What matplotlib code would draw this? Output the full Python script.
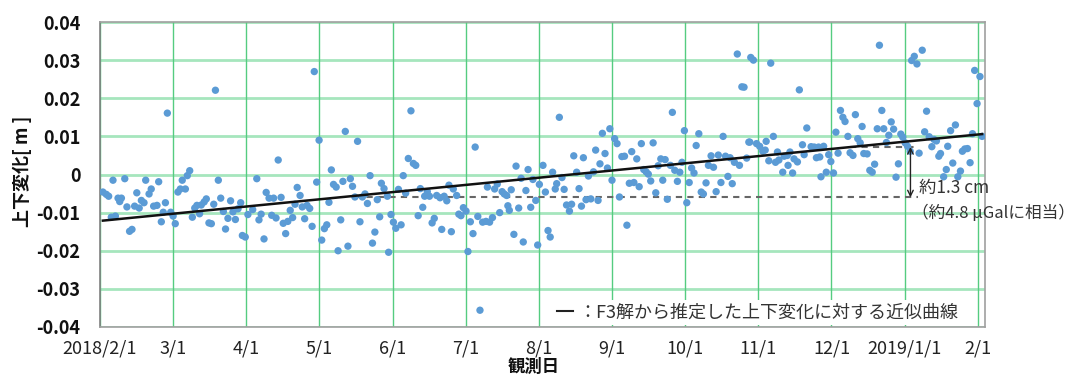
import numpy as np
import matplotlib
matplotlib.use("Agg")
import matplotlib.pyplot as plt
from matplotlib.lines import Line2D

plt.rcParams['font.family'] = ['Noto Sans CJK JP', 'DejaVu Sans']

# days since 2018/2/1 (month gridlines are drawn evenly, as in the original)
obs_day = [
    1.2, 2.6, 3.6, 4.7, 5.4, 6.4, 7.5, 8.2, 8.9, 10.3, 11.2, 12.3, 13.3, 14.4, 15.3,
    16.3, 17.2, 18.3, 19.0, 20.4, 21.3, 22.3, 23.7, 24.4, 25.5, 26.3, 27.2, 28.0,
    29.4, 30.4, 31.3, 32.4, 33.4, 34.2, 35.5, 36.3, 37.3, 38.4, 39.4, 40.3, 41.4,
    42.1, 43.3, 44.2, 45.3, 46.3, 47.3, 48.0, 49.2, 50.2, 51.3, 52.2, 53.2, 54.3,
    55.3, 56.3, 57.4, 58.5, 59.2, 60.4, 61.5,
    63.5, 65.2, 66.1, 67.0, 68.2, 69.1, 70.3, 71.4, 72.2, 73.2, 74.1, 75.3, 76.2,
    77.2, 78.1, 79.1, 80.1, 81.1, 82.0, 83.2, 84.1, 85.1, 86.1, 87.2, 88.2, 89.1,
    90.1, 91.1, 92.2, 93.3, 94.3, 95.2, 96.2, 97.1, 98.2, 99.0, 100.1, 101.0, 102.0,
    103.1, 104.1, 105.0, 106.0, 107.1, 108.1, 109.1, 110.2, 111.2, 112.3, 113.3,
    114.3, 115.3, 116.3, 117.0, 118.1, 119.5, 120.0, 121.0, 122.0,
    123.0, 124.1, 125.2, 126.1, 127.1, 128.2, 129.3, 130.3, 131.3, 132.3, 133.2,
    134.2, 135.0, 136.1, 137.0, 138.1, 139.0, 140.0, 141.4, 142.1, 143.1, 144.2,
    145.1, 146.1, 146.9, 148.3, 149.2, 150.1, 151.1, 152.2, 153.0, 154.0, 155.1,
    156.0, 157.1, 158.0, 159.1, 160.5, 161.1, 162.0, 163.2, 164.1, 165.2, 166.2,
    167.2, 168.1, 169.1, 169.6, 170.2, 171.0, 172.1, 173.0, 174.1, 175.1, 176.0,
    177.1, 178.0, 179.1, 180.0, 181.2, 182.0, 182.7,
    184.2, 185.2, 186.3, 187.2, 188.2, 189.3, 189.9, 191.0, 192.1, 193.0, 194.0,
    195.2, 196.1, 197.0, 198.2, 199.2, 200.2, 201.0, 202.1, 203.1, 204.1, 205.2,
    206.1, 207.1, 207.9, 208.9, 210.0, 211.0, 212.0, 212.9, 214.0, 215.0, 216.0,
    217.0, 218.1, 219.1, 220.1, 221.1, 222.0, 223.2, 224.2, 225.1, 226.1, 227.1,
    228.0, 229.0, 230.0, 231.1, 232.1, 233.2, 234.0, 235.0, 235.9, 237.2, 238.0,
    239.0, 240.1, 241.1, 242.0, 243.0, 244.0, 245.0, 246.0, 247.0, 247.9, 249.0,
    250.0, 250.9, 252.0, 253.0, 254.1, 255.1, 256.2, 257.1, 258.2, 259.1, 260.1,
    261.1, 262.0, 262.9, 263.8, 265.0, 265.9, 266.9, 267.8, 268.9, 269.8,
    270.2, 270.6, 271.7, 273.0, 274.3, 275.6, 276.6, 277.0, 278.1, 278.9, 280.0,
    280.9, 281.7, 282.3, 283.9, 284.5, 285.8, 286.1, 286.9, 288.0, 288.6, 290.0,
    290.8, 292.1, 292.8, 293.9, 295.7, 297.0, 297.9, 298.8, 299.3, 299.8, 300.9,
    302.0, 303.0, 303.9, 305.0, 306.0, 306.9, 307.9, 308.9, 309.8, 311.0, 311.9,
    313.1, 314.1, 315.1, 316.1, 316.9, 317.6, 319.0, 320.1, 321.1, 322.1, 323.2,
    324.1, 325.1, 325.9, 327.0, 328.0, 329.0, 330.0, 331.0, 332.0, 333.0, 333.8,
    334.8, 335.8, 336.9, 337.5, 338.6, 339.7, 340.6, 341.9, 342.9, 343.7, 344.8,
    345.9, 346.8, 347.8, 348.8, 349.5, 350.8, 351.9, 352.5, 353.7, 354.6, 355.7,
    356.7, 357.8, 358.6, 359.6, 360.7, 361.8, 362.8, 363.7, 364.7, 365.9, 366.8,
]

# vertical change [m]
dz = [
    -0.0046, -0.0052, -0.0057, -0.0112, -0.0015, -0.0109, -0.0062, -0.0071, -0.0062,
    -0.0011, -0.0085, -0.0149, -0.0144, -0.0083, -0.0048, -0.0088, -0.0068, -0.0074,
    -0.0015, -0.0051, -0.0038, -0.0083, -0.0081, -0.0019, -0.0124, -0.0099, -0.0074,
    0.0161, -0.0099, -0.0109, -0.0129, -0.0046, -0.0038, -0.0015, -0.0038, -0.0003,
    0.0010, -0.0112, -0.0088, -0.0081, -0.0103, -0.0080, -0.0072, -0.0064, -0.0127,
    -0.0129, -0.0078, 0.0221, -0.0015, -0.0062, -0.0097, -0.0143, -0.0115, -0.0069,
    -0.0098, -0.0118, -0.0090, -0.0074, -0.0160, -0.0164, -0.0105,
    -0.0092, -0.0011, -0.0119, -0.0104, -0.0169, -0.0047, -0.0062, -0.0107, -0.0062,
    -0.0114, 0.0038, -0.0060, -0.0128, -0.0155, -0.0123, -0.0094, -0.0113, -0.0078,
    -0.0034, -0.0055, -0.0085, -0.0116, -0.0081, -0.0089, -0.0136, 0.0270, -0.0020,
    0.0090, -0.0172, -0.0142, -0.0132, -0.0073, 0.0012, -0.0026, -0.0033, -0.0200,
    -0.0119, -0.0018, 0.0113, -0.0188, -0.0011, -0.0031, -0.0059, 0.0087, -0.0124,
    -0.0059, -0.0051, -0.0076, -0.0003, -0.0180, -0.0151, -0.0066, -0.0111, -0.0023,
    -0.0037, -0.0057, -0.0204, -0.0105, -0.0125,
    -0.0141, -0.0039, -0.0132, -0.0003, -0.0049, 0.0042, 0.0167, 0.0029, 0.0024,
    -0.0108, -0.0037, -0.0086, -0.0057, -0.0045, -0.0057, -0.0127, -0.0115, -0.0055,
    -0.0061, -0.0144, -0.0057, -0.0069, -0.0028, -0.0150, -0.0038, -0.0055, -0.0104,
    -0.0108, -0.0087, -0.0096, -0.0202, -0.0124, -0.0155, 0.0072, -0.0110, -0.0356,
    -0.0125, -0.0123, -0.0033, -0.0125, -0.0113, -0.0038, -0.0025, -0.0100, -0.0045,
    -0.0051, -0.0055, -0.0082, -0.0094, -0.0040, -0.0157, 0.0022, -0.0088, -0.0010,
    -0.0177, -0.0042, 0.0013, -0.0086, -0.0013, -0.0068, -0.0185, -0.0026,
    0.0024, -0.0046, -0.0147, -0.0164, 0.0006, -0.0038, -0.0024, 0.0150, -0.0008,
    -0.0039, -0.0080, -0.0096, -0.0078, 0.0049, 0.0006, -0.0037, -0.0083, 0.0044,
    -0.0066, -0.0004, -0.0064, 0.0007, 0.0064, -0.0068, 0.0028, 0.0108, 0.0055,
    0.0017, 0.0120, -0.0015, 0.0094, 0.0081, -0.0059, 0.0047, 0.0048, -0.0133,
    -0.0023, 0.0060, -0.0021, 0.0041, -0.0032, 0.0081, 0.0013, 0.0007, 0.0001,
    -0.0017, 0.0083, -0.0048, 0.0023, 0.0041, -0.0015, 0.0039, -0.0065, 0.0024,
    0.0163, 0.0011, -0.0018, 0.0006, 0.0032, 0.0115, -0.0074, -0.0021, 0.0017,
    0.0004, 0.0076, 0.0107, -0.0046, -0.0051, -0.0022, 0.0024, 0.0049, 0.0019,
    -0.0045, 0.0051, -0.0021, 0.0100, 0.0048, -0.0005, 0.0044, -0.0024, 0.0032,
    0.0316, 0.0024, 0.0230, 0.0229, 0.0043, 0.0085,
    0.0085, 0.0307, 0.0300, 0.0081, 0.0074, 0.0061, 0.0064, 0.0087, 0.0036, 0.0292,
    0.0100, 0.0032, 0.0059, 0.0038, 0.0006, 0.0048, 0.0050, 0.0024, 0.0059, 0.0004,
    0.0041, 0.0033, 0.0222, 0.0078, 0.0052, 0.0122, 0.0073, 0.0072, 0.0044, 0.0072,
    0.0046, -0.0006, 0.0074, 0.0006, 0.0052, 0.0034, 0.0004, 0.0111, 0.0056, 0.0168,
    0.0150, 0.0139, 0.0100, 0.0057, 0.0050, 0.0157, 0.0094, 0.0083, 0.0126, 0.0055,
    0.0054, 0.0011, 0.0006, 0.0027, 0.0120, 0.0339, 0.0168, 0.0120, 0.0084, 0.0103,
    0.0138, 0.0119, -0.0007, 0.0028, 0.0106, 0.0098, 0.0083, 0.0074, 0.0061, 0.0299,
    0.0310, 0.0290, 0.0056, 0.0326, 0.0112, 0.0166, 0.0099, 0.0073, 0.0092, 0.0088,
    0.0048, 0.0055, -0.0006, 0.0013, 0.0074, 0.0115, 0.0030, 0.0130, -0.0006, 0.0009,
    0.0061, 0.0067, 0.0068, 0.0031, 0.0107, 0.0273, 0.0186, 0.0257, 0.0100,
]

# fitted trend line (ends)
trend_day = [1.2, 366.8]
trend_dz = [-0.0121, 0.0106]

# reference levels for the 1.3 cm annotation
low_level = -0.0060
high_level = 0.0072
low_span = [106, 340]
high_span = [312, 340]
arrow_day = 337

month_labels = ['2018/2/1', '3/1', '4/1', '5/1', '6/1', '7/1', '8/1', '9/1',
                '10/1', '11/1', '12/1', '2019/1/1', '2/1']
y_ticks = [-0.04, -0.03, -0.02, -0.01, 0, 0.01, 0.02, 0.03, 0.04]

fig = plt.figure(figsize=(10.86, 3.76), dpi=100)
ax = fig.add_axes([100 / 1086, 1 - 327 / 376, 885 / 1086, 305 / 376])

tick_pos = np.arange(len(month_labels)) * 365 / 12
ax.set_xlim(0, 368)
ax.set_ylim(-0.04, 0.04)
ax.set_xticks(tick_pos)
ax.set_xticklabels(month_labels, fontsize=13, color='#222222')
ax.set_yticks(y_ticks)
ax.set_yticklabels(['0' if v == 0 else f'{v:.2f}' for v in y_ticks],
                   fontsize=13, fontweight='bold', color='#111111')
ax.tick_params(axis='both', length=0)
ax.tick_params(axis='y', pad=14)
ax.tick_params(axis='x', pad=9)

for v in y_ticks:
    ax.axhline(v, color='#a6e6bd', lw=2.0, zorder=0)
for t in tick_pos:
    ax.axvline(t, color='#55cc80', lw=1.0, zorder=0)

for s in ax.spines.values():
    s.set_color('#a0a0a0')
    s.set_linewidth(1.2)
ax.spines['left'].set_color('#808080')

ax.scatter(obs_day, dz, s=28, color='#5b9bd5', edgecolors='none', zorder=3)

ax.plot(low_span, [low_level, low_level], ls=(0, (3, 2.5)), color='#666666', lw=1.5, zorder=2)
ax.plot(high_span, [high_level, high_level], ls=(0, (3, 2.5)), color='#666666', lw=1.5, zorder=2)
ax.plot(trend_day, trend_dz, color='#111111', lw=1.8, zorder=4)

ax.annotate('', xy=(arrow_day, high_level), xytext=(arrow_day, low_level),
            arrowprops=dict(arrowstyle='<->', color='#222222', lw=1.0,
                            shrinkA=0, shrinkB=0), zorder=5)
ax.text(340.5, -0.0034, '約1.3 cm', fontsize=12.5, color='#333333',
        ha='left', va='center', zorder=6)
ax.text(337.5, -0.0101, '（約4.8 μGalに相当）', fontsize=12, color='#333333',
        ha='left', va='center', zorder=6, clip_on=False)

handle = Line2D([0], [0], color='#222222', lw=1.5)
leg = ax.legend([handle], ['：F3解から推定した上下変化に対する近似曲線'],
                loc='center', bbox_to_anchor=(0.743, 0.048), fontsize=13,
                handlelength=0.9, handletextpad=0.3, borderpad=0.2,
                frameon=True, fancybox=False, framealpha=1)
leg.get_frame().set_edgecolor('none')
leg.get_frame().set_facecolor('white')
for t in leg.get_texts():
    t.set_color('#333333')

fig.text(22 / 1086, 1 - 171 / 376, '上下変化[ m ]', rotation=90, fontsize=13,
         fontweight='bold', ha='center', va='center', color='#111111')
fig.text(534 / 1086, 1 - 367 / 376, '観測日', fontsize=12.5, fontweight='bold',
         ha='center', va='center', color='#111111')

fig.savefig('out.png', dpi=100)
